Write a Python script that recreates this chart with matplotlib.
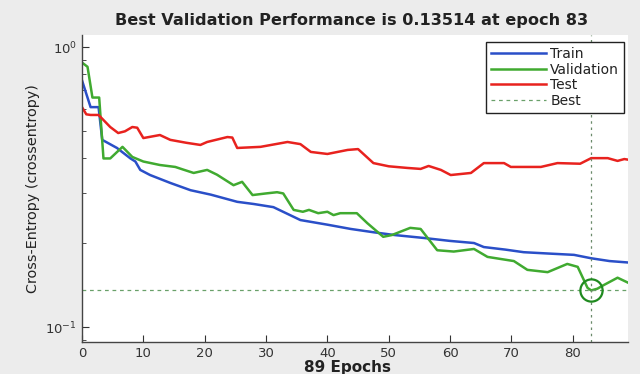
import matplotlib
matplotlib.use("Agg")
import matplotlib.pyplot as plt
from matplotlib.ticker import LogLocator, NullFormatter

plt.rcParams['font.family'] = ['DejaVu Sans']

# ---- data ----
train_epochs = [0, 1.4, 2.7, 3.3, 5.7, 7.9, 8.7, 9.5, 11.1, 14.4, 17.7, 21, 25.3, 28, 31.2,
                35.6, 40, 43.8, 47.5, 51, 55.7, 60, 63.9, 65.5, 69, 72, 76, 80.2, 83, 86, 89]
train_vals = [0.76, 0.61, 0.61, 0.466, 0.436, 0.40, 0.39, 0.364, 0.349, 0.327, 0.308, 0.297,
              0.28, 0.275, 0.268, 0.241, 0.232, 0.224, 0.218, 0.213, 0.208, 0.203, 0.1995,
              0.193, 0.189, 0.185, 0.183, 0.181, 0.176, 0.172, 0.17]

val_epochs = [0, 0.9, 1.7, 2.8, 3.5, 4.6, 6.6, 8.2, 10, 12.7, 15.2, 16.5, 18.2, 20.4, 22,
              24.7, 26.1, 27.8, 30, 31.8, 32.8, 34.5, 36, 37, 38.5, 40, 41, 42.1, 44.8,
              46.5, 49.1, 50.5, 53.5, 55.2, 57.9, 60.6, 63.9, 66.1, 70.4, 72.6, 75.9,
              79.1, 80.8, 82.4, 83, 84, 85, 87.3, 89]
val_vals = [0.88, 0.85, 0.66, 0.66, 0.40, 0.40, 0.44, 0.405, 0.39, 0.379, 0.373, 0.365,
            0.355, 0.364, 0.35, 0.321, 0.33, 0.296, 0.30, 0.303, 0.30, 0.262, 0.258, 0.262,
            0.255, 0.258, 0.251, 0.255, 0.255, 0.235, 0.21, 0.213, 0.226, 0.224, 0.188,
            0.186, 0.19, 0.178, 0.172, 0.16, 0.157, 0.168, 0.164, 0.138, 0.13514, 0.137,
            0.141, 0.150, 0.144]

test_epochs = [0, 0.7, 1.4, 2.7, 4.6, 5.9, 7, 8.2, 9, 10, 12.7, 14.4, 17, 19.3, 20.4, 23.7,
               24.5, 25.3, 29.1, 33.5, 35.6, 37.3, 40, 43.3, 45, 47.5, 50, 53, 55.2, 56.5,
               58.5, 60.1, 63.4, 65.5, 68.8, 69.9, 74.8, 77.5, 81.2, 83, 85.7, 87.3, 88.4, 89]
test_vals = [0.61, 0.575, 0.572, 0.572, 0.518, 0.493, 0.50, 0.518, 0.515, 0.473, 0.485,
             0.466, 0.455, 0.447, 0.458, 0.477, 0.475, 0.436, 0.44, 0.458, 0.45, 0.422,
             0.415, 0.429, 0.432, 0.385, 0.375, 0.37, 0.367, 0.376, 0.364, 0.349, 0.355,
             0.385, 0.385, 0.373, 0.373, 0.385, 0.383, 0.401, 0.401, 0.392, 0.398, 0.396]

best_epoch = 83
best_perf = 0.13514
n_epochs = 89
x_ticks = [0, 10, 20, 30, 40, 50, 60, 70, 80]

# ---- figure ----
W, H = 640, 374
fig = plt.figure(figsize=(6.4, 3.74), dpi=100, facecolor='#ececec')
ax = fig.add_axes([82 / W, 1 - 342 / H, 546 / W, 307 / H])
ax.set_facecolor('white')

ax.plot(train_epochs, train_vals, color='#2a4fc8', lw=1.8, label='Train')
ax.plot(val_epochs, val_vals, color='#40aa30', lw=1.8, label='Validation')
ax.plot(test_epochs, test_vals, color='#e8221e', lw=1.8, label='Test')
ax.axhline(best_perf, color='#6aa06a', lw=0.9, ls=(0, (3, 3)), label='Best')
ax.axvline(best_epoch, color='#6a8a6a', lw=0.9, ls=(0, (2, 3)))
ax.plot([best_epoch], [best_perf], marker='o', ms=16, mfc='none', mec='#1f8a1f', mew=1.6)

ax.set_yscale('log')
ax.set_xlim(0, n_epochs)
ax.set_ylim(0.0884, 1.104)
ax.set_xticks(x_ticks)
ax.yaxis.set_major_locator(LogLocator(base=10, numticks=5))
ax.yaxis.set_minor_locator(LogLocator(base=10, subs=range(2, 10), numticks=12))
ax.yaxis.set_minor_formatter(NullFormatter())
ax.tick_params(direction='in', which='both', labelsize=9.5, colors='#333333',
               labelcolor='#333333')
ax.tick_params(which='major', length=5)
ax.tick_params(which='minor', length=3)

for s in ['top', 'right']:
    ax.spines[s].set_visible(False)
for s in ['left', 'bottom']:
    ax.spines[s].set_color('#444444')
    ax.spines[s].set_linewidth(1.0)

fig.text(352 / W, 1 - 21 / H, 'Best Validation Performance is 0.13514 at epoch 83',
         fontsize=11.6, fontweight='bold', color='#222222', ha='center', va='center')
ax.set_xlabel('89 Epochs', fontsize=11, fontweight='bold', color='#222222')
ax.xaxis.set_label_coords(0.487, -0.06)
ax.set_ylabel('Cross-Entropy (crossentropy)', fontsize=10.4, color='#222222', va='center')
ax.yaxis.set_label_coords(-0.0897, 0.5)

leg = ax.legend(loc='upper right', bbox_to_anchor=(624 / W, 1 - 42 / H),
                bbox_transform=fig.transFigure, borderaxespad=0,
                fontsize=10, frameon=True, fancybox=False, framealpha=1,
                edgecolor='#222222', handlelength=4.0, borderpad=0.35,
                labelspacing=0.12, handletextpad=0.3)
leg.get_frame().set_linewidth(1.0)
for t in leg.get_texts():
    t.set_color('#222222')

fig.savefig('out.png', dpi=100, facecolor=fig.get_facecolor())
